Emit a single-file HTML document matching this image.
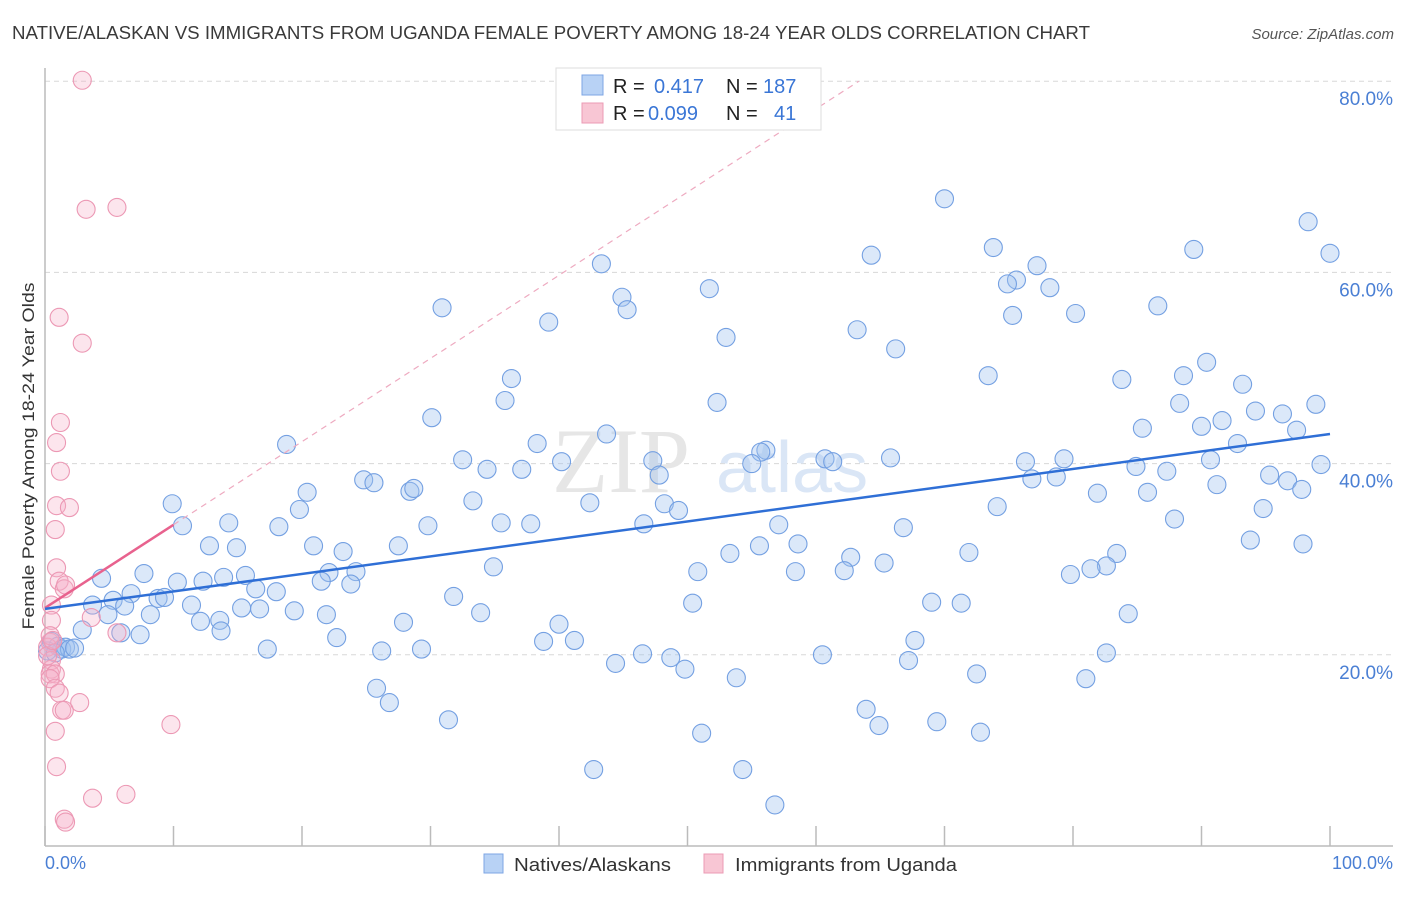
<!DOCTYPE html>
<html><head><meta charset="utf-8"><style>
body{margin:0;background:#fff;}
svg{font-family:"Liberation Sans",sans-serif;}
</style></head><body>
<svg id="chart" width="1406" height="892" viewBox="0 0 1406 892" xmlns="http://www.w3.org/2000/svg">
<text x="12" y="39" font-size="18" fill="#3a3a3a" textLength="1078" lengthAdjust="spacingAndGlyphs">NATIVE/ALASKAN VS IMMIGRANTS FROM UGANDA FEMALE POVERTY AMONG 18-24 YEAR OLDS CORRELATION CHART</text>
<text x="1394" y="39" font-size="15" fill="#555" font-style="italic" text-anchor="end">Source: ZipAtlas.com</text>
<g id="grid"></g>
<g>
<text x="552" y="492" font-size="92" font-family="Liberation Serif,serif" fill="#e6e6e6">ZIP</text>
<text x="716" y="492" font-size="72" fill="#dae6f6">atlas</text>
</g>
<line x1="45" y1="68" x2="45" y2="846" stroke="#bbb" stroke-width="1.5"/>
<line x1="45" y1="846" x2="1393" y2="846" stroke="#bbb" stroke-width="1.5"/>
<g id="ticks"></g>
<g id="pts"></g>
<g id="lines"></g>
<text transform="translate(34,456) rotate(-90)" font-size="17" fill="#333" text-anchor="middle" textLength="347" lengthAdjust="spacingAndGlyphs">Female Poverty Among 18-24 Year Olds</text>
<text x="45" y="869" font-size="18" fill="#4a7fd4">0.0%</text>
<text x="1393" y="869" font-size="18" fill="#4a7fd4" text-anchor="end">100.0%</text>
<g>
<rect x="556" y="68" width="265" height="62" fill="#fff" stroke="#ddd"/>
<rect x="582" y="75" width="21" height="20" fill="#b8d2f5" stroke="#7ea6e4"/>
<rect x="582" y="103" width="21" height="20" fill="#f8c6d4" stroke="#eb9bb4"/>
<text x="613" y="93" font-size="20" fill="#222">R =</text>
<text x="654" y="93" font-size="20" fill="#3a76d6">0.417</text>
<text x="726" y="93" font-size="20" fill="#222">N =</text>
<text x="763" y="93" font-size="20" fill="#3a76d6">187</text>
<text x="613" y="120" font-size="20" fill="#222">R =</text>
<text x="648" y="120" font-size="20" fill="#3a76d6">0.099</text>
<text x="726" y="120" font-size="20" fill="#222">N =</text>
<text x="774" y="120" font-size="20" fill="#3a76d6">41</text>
</g>
<g>
<rect x="484" y="854" width="19" height="19" fill="#b8d2f5" stroke="#7ea6e4"/>
<text x="514" y="871" font-size="18" fill="#333" textLength="157" lengthAdjust="spacingAndGlyphs">Natives/Alaskans</text>
</g>
<g>
<rect x="704" y="854" width="19" height="19" fill="#f8c6d4" stroke="#eb9bb4"/>
<text x="735" y="871" font-size="18" fill="#333" textLength="222" lengthAdjust="spacingAndGlyphs">Immigrants from Uganda</text>
</g>
</svg>
<script>
const yTicks=[20,40,60,80];
const yTickLabels=["20.0%","40.0%","60.0%","80.0%"];
const xTicks=[0,10,20,30,40,50,60,70,80,90,100];
const blueX=[70.0,98.3,100,73.8,89.4,64.3,43.3,77.2,75.6,74.9,51.7,78.2,44.9,45.3,30.9,86.6,75.3,80.2,39.2,63.2,53.0,66.2,90.4,88.6,73.4,83.8,36.3,93.2,35.8,52.3,88.3,98.9,94.2,96.3,30.1,91.6,90.0,85.4,97.4,43.7,18.8,38.3,92.8,56.1,55.7,32.5,47.3,40.2,60.7,65.8,79.3,76.3,61.3,55.0,90.7,99.3,84.9,34.4,87.3,37.1,47.8,95.3,76.8,78.7,96.7,91.2,24.8,25.6,28.4,28.7,20.4,97.8,81.9,85.8,33.3,48.2,42.4,19.8,49.3,94.8,74.1,9.9,29.8,87.9,14.3,18.2,35.5,37.8,46.6,57.1,10.7,66.8,93.8,97.9,12.8,14.9,20.9,27.5,58.6,55.6,23.2,53.3,71.9,83.4,62.7,65.3,82.6,81.4,34.9,22.1,15.6,50.8,58.4,7.7,62.2,79.8,24.2,10.3,21.5,12.3,13.9,23.8,4.4,16.4,8.8,6.7,18.0,5.3,9.3,3.7,6.2,11.4,19.4,15.3,16.7,31.8,50.4,69.0,71.3,13.6,12.1,8.2,4.9,21.9,33.9,27.9,84.3,40.0,13.7,5.9,2.9,7.4,22.7,41.2,38.8,67.7,17.3,26.2,29.3,46.5,60.5,82.6,48.7,44.4,67.2,49.8,53.8,72.5,81.0,25.8,26.8,31.4,63.9,64.9,69.4,72.8,51.1,42.7,54.3,56.8,0.5,1.0,1.3,1.6,1.9,2.3,0.2,0.8];
const blueY=[67.7,65.3,62.0,62.6,62.4,61.8,60.9,60.7,59.2,58.8,58.3,58.4,57.4,56.1,56.3,56.5,55.5,55.7,54.8,54.0,53.2,52.0,50.6,49.2,49.2,48.8,48.9,48.3,46.6,46.4,46.3,46.2,45.5,45.2,44.8,44.5,43.9,43.7,43.5,43.1,42.0,42.1,42.1,41.4,41.2,40.4,40.3,40.2,40.5,40.6,40.5,40.2,40.2,40.0,40.4,39.9,39.7,39.4,39.2,39.4,38.8,38.8,38.4,38.6,38.2,37.8,38.3,38.0,37.1,37.4,37.0,37.3,36.9,37.0,36.1,35.8,35.9,35.2,35.1,35.3,35.5,35.8,33.5,34.2,33.8,33.4,33.8,33.7,33.7,33.6,33.5,33.3,32.0,31.6,31.4,31.2,31.4,31.4,31.6,31.4,30.8,30.6,30.7,30.6,30.2,29.6,29.3,29.0,29.2,28.6,28.3,28.7,28.7,28.5,28.8,28.4,28.7,27.6,27.7,27.7,28.1,27.4,28.0,26.9,25.9,26.4,26.6,25.7,26.0,25.2,25.1,25.2,24.6,24.9,24.8,26.1,25.4,25.5,25.4,23.6,23.5,24.2,24.2,24.2,24.4,23.4,24.3,23.2,22.5,22.3,22.6,22.1,21.8,21.5,21.4,21.5,20.6,20.4,20.6,20.1,20.0,20.2,19.7,19.1,19.4,18.5,17.6,18.0,17.5,16.5,15.0,13.2,14.3,12.6,13.0,11.9,11.8,8.0,8.0,4.3,21.4,20.9,20.6,20.8,20.6,20.7,20.4,20.2];
const pinkX=[2.9,3.2,5.6,1.1,2.9,1.2,0.9,1.2,0.9,1.9,0.8,0.9,1.1,1.5,0.5,0.5,3.6,5.6,0.4,0.2,0.5,0.5,0.4,0.8,0.4,0.8,1.1,1.3,1.5,2.7,9.8,0.8,0.9,3.7,6.3,1.5,1.6,0.4,0.2,0.6,1.6];
const pinkY=[80.1,66.6,66.8,55.3,52.6,44.3,42.2,39.2,35.6,35.4,33.1,29.1,27.7,26.9,25.2,23.6,23.9,22.3,21.3,20.8,19.4,18.5,18.0,18.0,17.5,16.5,16.0,14.2,14.2,15.0,12.7,12.0,8.3,5.0,5.4,2.8,2.5,22.0,19.9,21.5,27.3];
const blueFit=[24.8,43.1];   // y at x=0, x=100
const pinkFit=[24.9,33.6];   // y at x=0, x=10
const X=v=>45+v*12.85, Y=v=>846-v*9.56;
const NS="http://www.w3.org/2000/svg";
function mk(t,a,p){const e=document.createElementNS(NS,t);for(const k in a)e.setAttribute(k,a[k]);p.appendChild(e);return e;}
const grid=document.getElementById('grid');
yTicks.forEach((t,i)=>{
  const l=mk('line',{x1:45,x2:1393,y1:Y(t),y2:Y(t),stroke:'#d8d8d8','stroke-dasharray':'5,4'},grid);
  
  
  const tx=mk('text',{x:1393,y:Y(t)+24,'font-size':19,fill:'#4a7fd4','text-anchor':'end'},grid);
  tx.textContent=yTickLabels[i];
  
  
});
const ticks=document.getElementById('ticks');
xTicks.forEach(t=>{
  const l=mk('line',{x1:X(t),x2:X(t),y1:826,y2:846,stroke:'#bbb','stroke-width':1.5},ticks);
  
  
});
const pts=document.getElementById('pts');
blueX.forEach((x,i)=>{
  const c=mk('circle',{cx:X(x),cy:Y(blueY[i]),r:9,fill:'rgba(160,195,240,0.38)',stroke:'#74a0e2','stroke-width':1.1},pts);
  
  
});
pinkX.forEach((x,i)=>{
  const c=mk('circle',{cx:X(x),cy:Y(pinkY[i]),r:9,fill:'rgba(245,175,200,0.33)',stroke:'#ec98b4','stroke-width':1.1},pts);
  
  
});
const lines=document.getElementById('lines');
const ps=(pinkFit[1]-pinkFit[0])/10, xEnd=(80-pinkFit[0])/ps;
const d=mk('line',{x1:X(10),y1:Y(pinkFit[1]),x2:X(xEnd),y2:Y(80),stroke:'#eeaac0','stroke-width':1.2,'stroke-dasharray':'6,5'},lines);


const pl=mk('line',{x1:X(0),y1:Y(pinkFit[0]),x2:X(10),y2:Y(pinkFit[1]),stroke:'#e8628e','stroke-width':2.5},lines);


const bl=mk('line',{x1:X(0),y1:Y(blueFit[0]),x2:X(100),y2:Y(blueFit[1]),stroke:'#2f6fd6','stroke-width':2.5},lines);


</script>
</body></html>
